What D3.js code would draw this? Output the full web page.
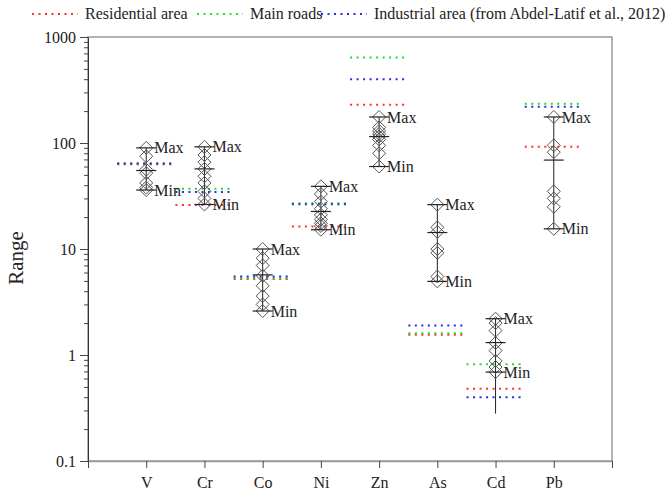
<!DOCTYPE html>
<html>
<head>
<meta charset="utf-8">
<script src="https://cdn.jsdelivr.net/npm/d3@7"></script>
<style>
  body { margin: 0; background: #fff; }
</style>
</head>
<body>
<svg id="chart" width="670" height="491"></svg>
<script>
// element names along the x axis
const elements = ["V", "Cr", "Co", "Ni", "Zn", "As", "Cd", "Pb"];

// reference levels (Abdel-Latif et al., 2012)
const residential = [63, 26, 5.2, 16.3, 230, 1.55, 0.48, 92];
const mainRoads   = [64, 37, 5.3, 27, 640, 1.6, 0.82, 235];
const industrial  = [64, 34.5, 5.5, 26.5, 400, 1.9, 0.40, 220];

// measured samples (diamonds)
const samples = [
  [90, 75, 56, 52, 42, 38, 36],
  [92, 77, 66, 57, 48.5, 42, 35, 30, 26.3],
  [10, 8.2, 7, 5.6, 4.5, 3.6, 3, 2.6],
  [39, 33, 28, 24, 21, 19, 17.5, 16.5, 15.2],
  [176, 140, 130, 122, 115, 108, 95, 80, 60],
  [26.2, 16, 14.5, 10, 9.2, 5.5, 4.95],
  [2.2, 2.0, 1.7, 1.3, 1.1, 0.88, 0.77, 0.69],
  [176, 95, 82, 35, 30, 25, 15.5]
];
const means = [55, 57, 5.7, 22.6, 115, 14.3, 1.31, 69];
const whiskerLow = [36, 26.3, 2.6, 15.2, 60, 4.95, 0.28, 15.5];

const yMajor = [0.1, 1, 10, 100, 1000];

const legendItems = [
  { label: "Residential area", color: "#ff3030" },
  { label: "Main roads", color: "#22dd22" },
  { label: "Industrial area (from Abdel-Latif et al., 2012)", color: "#2a2aee" }
];

const serif = "'Liberation Serif', 'Times New Roman', 'DejaVu Serif', serif";

const svg = d3.select("#chart").style("font-family", serif);
const mLeft = 88, mRight = 612, mTop = 37, mBottom = 461;

const x = d3.scaleLinear().domain([0, elements.length + 1]).range([mLeft, mRight]);
const y = d3.scaleLog().domain([0.1, 1000]).range([mBottom, mTop]);

// frame
svg.append("rect")
  .attr("x", mLeft).attr("y", mTop)
  .attr("width", mRight - mLeft).attr("height", mBottom - mTop)
  .attr("fill", "none").attr("stroke", "#999").attr("stroke-width", 1.5);

// minor ticks
const minor = [];
for (let e = -1; e < 3; e++) {
  for (let k = 2; k <= 9; k++) minor.push(k * Math.pow(10, e));
}
svg.append("g")
  .attr("transform", `translate(${mLeft},0)`)
  .call(d3.axisLeft(y).tickValues(minor).tickSize(4).tickFormat(""))
  .call(g => g.select(".domain").remove())
  .call(g => g.selectAll("line").attr("stroke", "#444"));

const yAxis = svg.append("g")
  .attr("transform", `translate(${mLeft},0)`)
  .call(d3.axisLeft(y).tickValues(yMajor).tickSize(8).tickPadding(4).tickSizeOuter(0)
    .tickFormat(d => d3.format("~g")(d)));
yAxis.attr("font-family", serif).attr("font-size", 16);
yAxis.select(".domain").attr("stroke", "#333");
yAxis.selectAll("line").attr("stroke", "#444");
yAxis.selectAll("text").attr("fill", "#222");

const xAxis = svg.append("g")
  .attr("transform", `translate(0,${mBottom})`)
  .call(d3.axisBottom(x).tickValues(d3.range(0, elements.length + 2)).tickSize(7).tickPadding(9).tickSizeOuter(0)
    .tickFormat(d => elements[d - 1] || ""));
xAxis.attr("font-family", serif).attr("font-size", 16);
xAxis.select(".domain").attr("stroke", "#999").attr("stroke-width", 1.5);
xAxis.selectAll("line").attr("stroke", "#444");
xAxis.selectAll("text").attr("fill", "#222");

// y label
svg.append("text")
  .attr("transform", "translate(23,258) rotate(-90)")
  .attr("text-anchor", "middle")
  .attr("font-size", 21)
  .attr("fill", "#222")
  .text("Range");

// reference dotted lines
const half = 29;
[residential, mainRoads, industrial].forEach((arr, si) => {
  svg.append("g").selectAll("line")
    .data(arr)
    .enter()
    .append("line")
    .attr("x1", (d, i) => x(i + 1) - half)
    .attr("x2", (d, i) => x(i + 1) + half)
    .attr("y1", d => y(d))
    .attr("y2", d => y(d))
    .attr("stroke", legendItems[si].color)
    .attr("stroke-width", 2)
    .attr("stroke-dasharray", "2,4.5");
});

// boxes: whisker, diamonds, max/min/mean bars, labels
const ds = 6.5;
elements.forEach((el, i) => {
  const cx = x(i + 1);
  const vals = samples[i];
  const vmax = d3.max(vals), vmin = d3.min(vals);
  const g = svg.append("g");

  g.append("line")
    .attr("x1", cx).attr("x2", cx)
    .attr("y1", y(vmax)).attr("y2", y(whiskerLow[i]))
    .attr("stroke", "#222").attr("stroke-width", 1);

  g.selectAll("path.dia")
    .data(vals)
    .enter()
    .append("path")
    .attr("class", "dia")
    .attr("d", d => `M${cx},${y(d) - ds}L${cx + ds},${y(d)}L${cx},${y(d) + ds}L${cx - ds},${y(d)}Z`)
    .attr("fill", "none").attr("stroke", "#555").attr("stroke-width", 1);

  g.selectAll("line.bar")
    .data([vmax, vmin, means[i]])
    .enter()
    .append("line")
    .attr("class", "bar")
    .attr("x1", cx - 10).attr("x2", cx + 10)
    .attr("y1", d => y(d)).attr("y2", d => y(d))
    .attr("stroke", "#222").attr("stroke-width", 1.2);

  g.selectAll("text")
    .data([["Max", vmax], ["Min", vmin]])
    .enter()
    .append("text")
    .attr("x", cx + 8)
    .attr("y", d => y(d[1]))
    .attr("dy", "0.35em")
    .attr("font-size", 16)
    .attr("fill", "#222")
    .text(d => d[0]);
});

// legend
const legendPos = [32, 197, 321];
legendItems.forEach((item, i) => {
  const gx = legendPos[i];
  svg.append("line")
    .attr("x1", gx).attr("x2", gx + 46)
    .attr("y1", 14).attr("y2", 14)
    .attr("stroke", item.color).attr("stroke-width", 2)
    .attr("stroke-dasharray", "2,4.5");
  svg.append("text")
    .attr("x", gx + 53).attr("y", 19)
    .attr("font-size", 16)
    .attr("fill", "#222")
    .text(item.label);
});
</script>
</body>
</html>
